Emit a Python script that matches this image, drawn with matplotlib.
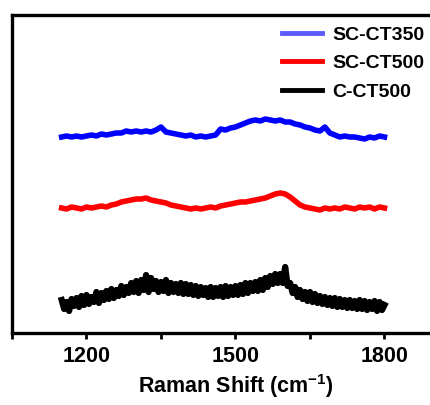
import numpy as np
import matplotlib
matplotlib.use("Agg")
import matplotlib.pyplot as plt
from matplotlib.ticker import MultipleLocator

plt.rcParams['font.family'] = ['Liberation Sans', 'DejaVu Sans']
plt.rcParams['font.weight'] = 'bold'
plt.rcParams['mathtext.fontset'] = 'custom'
plt.rcParams['mathtext.rm'] = 'Liberation Sans:bold'
plt.rcParams['mathtext.bf'] = 'Liberation Sans:bold'

# Raman shift grids (cm-1)
shift = np.arange(1150, 1801, 10)
shift_fine = np.arange(1150, 1801, 5)

# intensities, arbitrary units, already offset for stacking
sc_ct350 = [196, 197, 196, 197, 196, 197, 198, 197, 199, 198, 199, 200, 200, 202, 201, 202,
            201, 202, 201, 203, 206, 201, 200, 199, 198, 197, 198, 196, 197, 196, 197, 198,
            204, 203, 205, 206, 208, 210, 212, 213, 212, 214, 213, 212, 213, 211, 211, 209,
            208, 206, 205, 203, 202, 206, 200, 198, 196, 197, 196, 196, 195, 194, 196, 195,
            197, 196]
sc_ct500 = [125, 124, 126, 125, 124, 126, 125, 126, 127, 126, 128, 129, 131, 132, 133, 134,
            134, 135, 133, 132, 131, 130, 128, 127, 126, 125, 124, 125, 124, 125, 126, 125,
            127, 128, 129, 130, 131, 131, 132, 133, 134, 135, 137, 139, 140, 139, 136, 132,
            128, 126, 125, 124, 123, 125, 124, 125, 124, 126, 125, 124, 126, 125, 126, 124,
            126, 125]
c_ct500 = [33, 24, 31, 22, 34, 27, 35, 26, 37, 28,
           38, 29, 36, 31, 41, 30, 40, 33, 42, 34,
           44, 35, 43, 37, 47, 38, 46, 40, 50, 41,
           52, 40, 53, 43, 58, 41, 55, 44, 52, 41,
           51, 42, 53, 40, 50, 41, 49, 40, 50, 39,
           49, 39, 48, 38, 47, 37, 46, 38, 45, 36,
           46, 36, 45, 37, 46, 36, 47, 37, 46, 38,
           47, 38, 48, 39, 50, 40, 50, 42, 51, 42,
           53, 43, 55, 46, 57, 49, 59, 50, 59, 50,
           66, 47, 50, 40, 46, 36, 43, 34, 41, 32,
           41, 31, 39, 30, 37, 29, 36, 28, 35, 27,
           35, 26, 34, 26, 33, 25, 33, 25, 32, 24,
           33, 24, 32, 23, 31, 24, 32, 22, 31, 23,
           28]

labels = ['SC-CT350', 'SC-CT500', 'C-CT500']
colors = ['#0000ff', '#ff0000', '#000000']

fig = plt.figure(figsize=(4.3, 4.05), dpi=100)
ax = fig.add_axes([12 / 430, 72 / 405, 447 / 430, 318 / 405])

ax.plot(shift, sc_ct350, color=colors[0], lw=4, label=labels[0])
ax.plot(shift, sc_ct500, color=colors[1], lw=4, label=labels[1])
ax.plot(shift_fine, c_ct500, color=colors[2], lw=4.5, label=labels[2])

ax.set_xlim(1050, 1950)
ax.set_ylim(0, 318)
ax.set_yticks([])
ax.xaxis.set_major_locator(MultipleLocator(300))
ax.xaxis.set_minor_locator(MultipleLocator(150))
ax.tick_params(axis='x', which='both', direction='out', width=2, length=4,
               labelsize=15.5, pad=5)
for lbl in ax.get_xticklabels():
    lbl.set_fontweight('bold')
for s in ax.spines.values():
    s.set_linewidth(2.4)
ax.spines['right'].set_visible(False)

ax.set_xlabel('Raman Shift (cm$^{-1}$)', fontsize=15.5, fontweight='bold', labelpad=4)

leg = ax.legend(loc='upper left', bbox_to_anchor=(0.655, 0.935),
                bbox_transform=fig.transFigure, frameon=False, fontsize=14,
                handlelength=2.1, handletextpad=0.5, labelspacing=0.55,
                borderpad=0, borderaxespad=0)
leg.get_lines()[0].set_color('#5a5aff')
for h in leg.get_lines():
    h.set_linewidth(3.5)
for t in leg.get_texts():
    t.set_fontweight('bold')

fig.savefig('out.png', dpi=100)
